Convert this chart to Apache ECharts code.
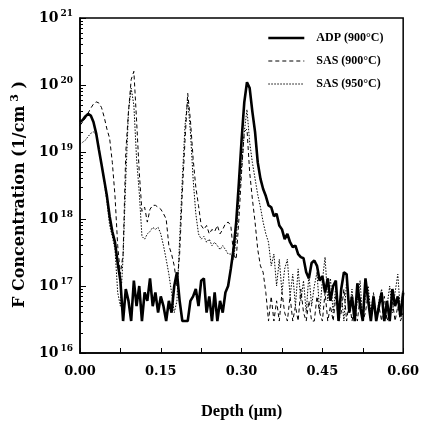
<!DOCTYPE html>
<html><head><meta charset="utf-8">
<script src="https://cdn.jsdelivr.net/npm/echarts@6/dist/echarts.min.js"></script>
<style>html,body{margin:0;padding:0;background:#fff}#c{width:422px;height:429px}</style>
</head><body><div id="c"></div>
<script>
var depth = [0,0.005,0.01,0.015,0.02,0.025,0.03,0.035,0.04,0.045,0.05,0.055,0.06,0.065,0.07,0.075,0.08,0.085,0.09,0.095,
0.1,0.105,0.11,0.115,0.12,0.125,0.13,0.135,0.14,0.145,0.15,0.155,0.16,0.165,0.17,0.175,0.18,0.185,0.19,0.195,
0.2,0.205,0.21,0.215,0.22,0.225,0.23,0.235,0.24,0.245,0.25,0.255,0.26,0.265,0.27,0.275,0.28,0.285,0.29,0.295,
0.3,0.305,0.31,0.315,0.32,0.325,0.33,0.335,0.34,0.345,0.35,0.355,0.36,0.365,0.37,0.375,0.38,0.385,0.39,0.395,
0.4,0.405,0.41,0.415,0.42,0.425,0.43,0.435,0.44,0.445,0.45,0.455,0.46,0.465,0.47,0.475,0.48,0.485,0.49,0.495,
0.5,0.505,0.51,0.515,0.52,0.525,0.53,0.535,0.54,0.545,0.55,0.555,0.56,0.565,0.57,0.575,0.58,0.585,0.59,0.595,0.6];

var adp900 = [2.8e19,3.0e19,3.4e19,3.7e19,3.5e19,2.8e19,1.9e19,1.1e19,6.5e18,3.8e18,2.2e18,1.1e18,6.5e17,4.5e17,2.2e17,1.2e17,3e16,9e16,6e16,3e16,
1.2e17,5e16,1.0e17,3e16,8e16,6e16,1.3e17,5e16,8e16,4e16,7e16,5e16,3e16,6e16,4e16,1e17,1.6e17,6e16,3e16,3e16,
3e16,6e16,7e16,9e16,5e16,1.2e17,1.3e17,4e16,7e16,3e16,8e16,3e16,6e16,4e16,8e16,1.0e17,1.8e17,3.5e17,9e17,3.5e18,
1.5e19,5.5e19,1.1e20,9e19,4e19,2e19,7e18,4e18,2.8e18,2.2e18,1.6e18,1.5e18,1.1e18,1.2e18,8e17,7e17,5e17,6e17,4.5e17,3.8e17,
4e17,3e17,2.7e17,2.6e17,1.6e17,1.3e17,2.2e17,2.4e17,2e17,1.2e17,1.4e17,8e16,1.3e17,6e16,1e17,1.2e17,3e16,9e16,1.6e17,1.5e17,
4e16,7e16,3e16,1.1e17,5e16,3e16,1.3e17,6e16,3e16,7e16,3e16,5e16,8e16,3e16,6e16,3e16,9e16,5e16,7e16,3.5e16,8e16];

var sas900 = [2.5e19,2.8e19,3.2e19,3.8e19,4.5e19,5.2e19,5.6e19,5.4e19,4.6e19,3.3e19,2.2e19,1.6e19,7e18,2.2e18,4e17,1.5e17,3e17,1e19,4e19,1.2e20,
1.6e20,3e19,5e18,1.3e18,1.5e18,9e17,1.4e18,1.6e18,1.6e18,1.5e18,1.4e18,1.2e18,1.0e18,4e17,3e17,2e17,1e17,3e17,2.5e18,1.5e19,
7.5e19,3e19,8e18,3e18,1.6e18,8e17,7e17,8e17,6e17,7e17,6.5e17,8e17,6e17,7e17,8.5e17,9e17,8e17,3e17,2.5e17,1e18,
5e18,2e19,2.2e19,5e18,2e18,9e17,3.5e17,2e17,1.6e17,8e16,3e16,7e16,3e16,6e16,3e16,8e16,4e16,3e16,7e16,3e16,
5e16,3e16,9e16,4e16,3e16,6e16,3e16,3e16,7e16,4e16,3e16,8e16,3e16,5e16,3e16,7e16,3e16,4e16,9e16,3e16,
6e16,3e16,5e16,3e16,7e16,3e16,4e16,8e16,3e16,6e16,3e16,5e16,3e16,7e16,3e16,4e16,6e16,3e16,5e16,3e16,4e16];

var sas950 = [1.3e19,1.4e19,1.5e19,1.7e19,1.9e19,2.0e19,1.8e19,1.2e19,6.5e18,3.5e18,1.8e18,8e17,5.5e17,3.5e17,8e16,5e16,2.7e17,4e18,4e19,9e19,
5e19,8e18,2.5e18,5.5e17,5e17,6e17,6.5e17,7.5e17,7e17,7.5e17,6e17,4e17,2.5e17,1.5e17,8e16,4e16,6e16,5e17,4e18,2.5e19,
6e19,2e19,4e18,1.2e18,6e17,5e17,5.5e17,4.5e17,5e17,4e17,4.5e17,4e17,3.5e17,4e17,3.5e17,3e17,3e17,2.5e17,5e17,2e18,
6e18,2e19,4.3e19,1.4e19,7e18,4e18,2.3e18,1.5e18,9e17,6e17,4.5e17,2e17,3e17,1e17,2.5e17,8e16,1.8e17,2.5e17,7e16,1.5e17,
5e16,1.8e17,6e16,1.2e17,4e16,1.5e17,5e16,1e17,1.6e17,4e16,1.2e17,2.7e17,6e16,1.3e17,4e16,1e17,5e16,8e16,3e16,1.2e17,
4e16,9e16,3e16,6e16,1.2e17,3e16,7e16,1e17,4e16,8e16,3e16,6e16,9e16,3e16,5e16,1e17,4e16,8e16,1.5e17,4e16,9e16];

var xTicks = [0, 0.15, 0.30, 0.45, 0.60];
var seriesNames = ['ADP (900°C)', 'SAS (900°C)', 'SAS (950°C)'];
var lineWidths = [2.6, 1, 1];

function pairs(xs, ys){ return xs.map(function(x,i){ return [x, ys[i]]; }); }

var FONT = '"Liberation Serif", "DejaVu Serif", serif';
var WIDE = '"DejaVu Serif", "Liberation Serif", serif';
var chart = echarts.init(document.getElementById('c'), null, {renderer:'canvas'});
chart.setOption({
  animation:false,
  backgroundColor:'#fff',
  grid:{left:80, right:14, top:18, bottom:76, show:true, borderColor:'#000', borderWidth:1.5, backgroundColor:'transparent'},
  legend:{
    orient:'vertical', left:262, top:27, itemWidth:36, itemHeight:10, itemGap:11,
    data:seriesNames.map(function(n,i){ return {name:n, lineStyle:{width:lineWidths[i]}}; }),
    itemStyle:{opacity:0},
    textStyle:{fontFamily:FONT, fontWeight:'bold', fontSize:12, color:'#000', padding:[0,0,0,7]}
  },
  xAxis:{
    type:'value', min:0, max:0.6, interval:0.15,
    axisLine:{lineStyle:{color:'#000', width:1.5}},
    axisTick:{inside:true, length:5, lineStyle:{color:'#000'}},
    minorTick:{show:true, splitNumber:2, length:5, lineStyle:{color:'#000'}},
    splitLine:{show:false},
    axisLabel:{margin:12, color:'#000', fontFamily:WIDE, fontWeight:'bold', fontSize:13,
      formatter:function(v){ return v.toFixed(2); }},
    name:'Depth (μm)', nameLocation:'middle', nameGap:50,
    nameTextStyle:{fontFamily:FONT, fontWeight:'bold', fontSize:16.5, color:'#000'}
  },
  yAxis:{
    type:'log', logBase:10, min:1e16, max:1e21,
    axisLine:{lineStyle:{color:'#000', width:1.5}},
    axisTick:{inside:true, length:6, lineStyle:{color:'#000'}},
    minorTick:{show:true, splitNumber:9, length:3, lineStyle:{color:'#000'}},
    splitLine:{show:false},
    axisLabel:{margin:7, color:'#000',
      formatter:function(v){ return '{b|10}{s|' + Math.round(Math.log10(v)) + '}'; },
      rich:{b:{fontFamily:WIDE, fontWeight:'bold', fontSize:14, color:'#000'},
            s:{fontFamily:WIDE, fontWeight:'bold', fontSize:9, color:'#000', verticalAlign:'top', padding:[0,0,9,2]}}},
    name:'{t|F Concentration (1/cm}{s| 3}{t| )}', nameLocation:'middle', nameGap:49,
    nameTextStyle:{padding:[0,18,0,0], rich:{t:{fontFamily:WIDE, fontWeight:'bold', fontSize:16, color:'#000'},
                         s:{fontFamily:WIDE, fontWeight:'bold', fontSize:11, color:'#000', padding:[0,0,9,0]}}}
  },
  series:[
    {name:seriesNames[0], type:'line', data:pairs(depth, adp900), symbol:'none', showSymbol:false,
     lineStyle:{color:'#000', width:lineWidths[0], type:'solid'}, itemStyle:{color:'#000'}, z:3},
    {name:seriesNames[1], type:'line', data:pairs(depth, sas900), symbol:'none', showSymbol:false,
     lineStyle:{color:'#000', width:lineWidths[1], type:[4,3]}, itemStyle:{color:'#000'}, z:2},
    {name:seriesNames[2], type:'line', data:pairs(depth, sas950), symbol:'none', showSymbol:false,
     lineStyle:{color:'#000', width:lineWidths[2], type:[1.5,1.5]}, itemStyle:{color:'#000'}, z:1}
  ]
});
</script></body></html>
